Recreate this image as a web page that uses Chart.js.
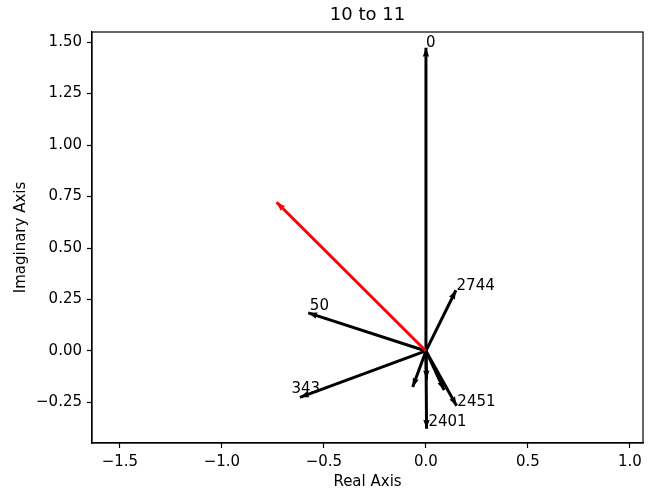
<!DOCTYPE html>
<html>
<head>
<meta charset="utf-8">
<script src="https://cdn.jsdelivr.net/npm/chart.js@4.4.1/dist/chart.umd.min.js"></script>
<style>
html,body{margin:0;padding:0;background:#fff;}
#wrap{width:659px;height:494px;}
</style>
</head>
<body>
<div id="wrap"><canvas id="c" width="659" height="494"></canvas></div>
<script>
// Title
const chartTitle = '10 to 11';
// Black vectors (real, imaginary) with their labels
const vecLabels = ['0', '50', '2744', '343', '2451', '2401', '', '', ''];
const vecRe     = [0.000, -0.577, 0.147, -0.618, 0.150, 0.003, -0.065, 0.089, 0.003];
const vecIm     = [1.472,  0.185, 0.295, -0.225, -0.266, -0.378, -0.175, -0.190, -0.138];
// label anchor positions (data units, text baseline-left)
const lblRe     = [0.000, -0.569, 0.150, -0.659, 0.154, 0.012, 0, 0, 0];
const lblIm     = [1.476,  0.201, 0.298, -0.204, -0.269, -0.366, 0, 0, 0];
// Red (result) vector
const redRe = [-0.732];
const redIm = [0.722];
// Axis ticks
const xTicks = [-1.5, -1.0, -0.5, 0.0, 0.5, 1.0];
const yTicks = [-0.25, 0.0, 0.25, 0.5, 0.75, 1.0, 1.25, 1.5];
const xRange = [-1.637, 1.064];
const yRange = [-0.447, 1.549];

const FONT = 'DejaVu Sans';
const SHAFT = 3;

const datasets = [];
datasets.push({
  data: [{x: 0, y: 0}, {x: redRe[0], y: redIm[0]}],
  borderColor: '#ff0000', backgroundColor: '#ff0000',
  showLine: true, borderWidth: SHAFT, pointRadius: 0, pointHoverRadius: 0,
  tension: 0
});
for (let i = 0; i < vecRe.length; i++) {
  datasets.push({
    data: [{x: 0, y: 0}, {x: vecRe[i], y: vecIm[i]}],
    borderColor: '#000000', backgroundColor: '#000000',
    showLine: true, borderWidth: SHAFT, pointRadius: 0, pointHoverRadius: 0,
    tension: 0
  });
}

const minus = s => s.replace('-', '\u2212');

const arrowPlugin = {
  id: 'arrows',
  afterDatasetsDraw(chart) {
    const ctx = chart.ctx;
    const xs = chart.scales.x, ys = chart.scales.y;
    const a = chart.chartArea;
    ctx.save();
    ctx.beginPath();
    ctx.rect(a.left, a.top, a.right - a.left, a.bottom - a.top);
    ctx.clip();
    const order = chart.data.datasets.slice(1).concat([chart.data.datasets[0]]);
    order.forEach(ds => {
      const p = ds.data[1];
      const x0 = xs.getPixelForValue(0), y0 = ys.getPixelForValue(0);
      const x1 = xs.getPixelForValue(p.x), y1 = ys.getPixelForValue(p.y);
      const dx = x1 - x0, dy = y1 - y0;
      const L = Math.hypot(dx, dy);
      if (L < 1) return;
      const ux = dx / L, uy = dy / L, nx = -uy, ny = ux;
      const hl = 9, hal = 8, hw = 3.2;
      ctx.fillStyle = ds.borderColor;
      ctx.beginPath();
      ctx.moveTo(x1, y1);
      ctx.lineTo(x1 - ux * hl + nx * hw, y1 - uy * hl + ny * hw);
      ctx.lineTo(x1 - ux * hal, y1 - uy * hal);
      ctx.lineTo(x1 - ux * hl - nx * hw, y1 - uy * hl - ny * hw);
      ctx.closePath();
      ctx.fill();
    });
    ctx.restore();
    // labels
    ctx.save();
    ctx.fillStyle = '#000';
    ctx.font = '15px "' + FONT + '"';
    ctx.textAlign = 'left';
    ctx.textBaseline = 'alphabetic';
    for (let i = 0; i < vecLabels.length; i++) {
      if (!vecLabels[i]) continue;
      ctx.fillText(vecLabels[i], xs.getPixelForValue(lblRe[i]), ys.getPixelForValue(lblIm[i]));
    }
    ctx.restore();
  },
  afterDraw(chart) {
    const ctx = chart.ctx, a = chart.chartArea;
    ctx.save();
    ctx.strokeStyle = '#000';
    ctx.lineWidth = 1.2;
    ctx.strokeRect(a.left, a.top, a.right - a.left, a.bottom - a.top);
    ctx.fillStyle = '#000';
    ctx.font = '18px "' + FONT + '"';
    ctx.textAlign = 'center';
    ctx.textBaseline = 'middle';
    ctx.fillText(chartTitle, (a.left + a.right) / 2, 15);
    ctx.restore();
  }
};

new Chart(document.getElementById('c'), {
  type: 'scatter',
  data: {datasets},
  options: {
    responsive: false,
    animation: false,
    events: [],
    layout: {padding: {left: 0, right: 16, top: 32, bottom: 0}},
    plugins: {
      legend: {display: false},
      tooltip: {enabled: false},
      title: {display: false}
    },
    scales: {
      x: {
        type: 'linear', min: xRange[0], max: xRange[1],
        afterBuildTicks: s => { s.ticks = xTicks.map(v => ({value: v})); },
        afterFit: s => { s.height = 51; },
        grid: {drawOnChartArea: false, drawTicks: true, tickLength: 5, tickWidth: 1.2, tickColor: '#000'},
        border: {display: true, color: '#000', width: 1.2},
        ticks: {color: '#000', font: {family: FONT, size: 15}, padding: 5, maxRotation: 0,
                callback: v => minus(Number(v).toFixed(1))},
        title: {display: true, text: 'Real Axis', color: '#000', font: {family: FONT, size: 15}, padding: {top: 2, bottom: 3}}
      },
      y: {
        type: 'linear', min: yRange[0], max: yRange[1],
        afterBuildTicks: s => { s.ticks = yTicks.map(v => ({value: v})); },
        afterFit: s => { s.width = 92; },
        grid: {drawOnChartArea: false, drawTicks: true, tickLength: 5, tickWidth: 1.2, tickColor: '#000'},
        border: {display: true, color: '#000', width: 1.2},
        ticks: {color: '#000', font: {family: FONT, size: 15}, padding: 5,
                callback: v => minus(Number(v).toFixed(2))},
        title: {display: true, text: 'Imaginary Axis', color: '#000', font: {family: FONT, size: 15}, padding: {top: 12, bottom: 0}}
      }
    }
  },
  plugins: [arrowPlugin]
});
</script>
</body>
</html>
